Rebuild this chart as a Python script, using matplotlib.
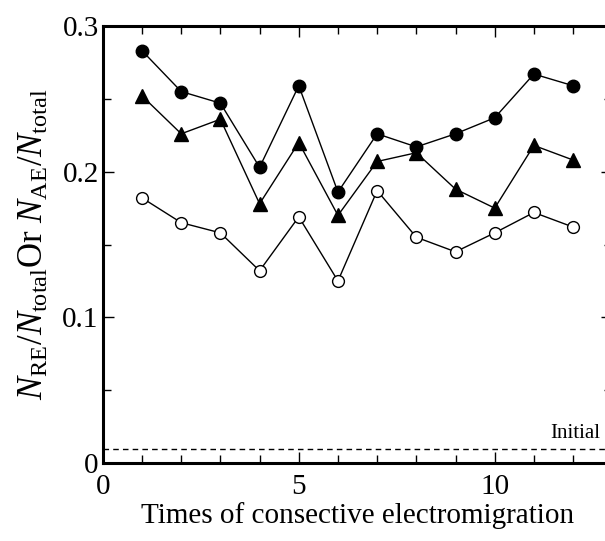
import numpy as np
import matplotlib
matplotlib.use('Agg')
import matplotlib.pyplot as plt
from matplotlib.ticker import MultipleLocator

plt.rcParams['font.family'] = ['Liberation Serif', 'DejaVu Serif']
plt.rcParams['mathtext.fontset'] = 'custom'
plt.rcParams['mathtext.rm'] = 'Liberation Serif'
plt.rcParams['mathtext.it'] = 'Liberation Serif:italic'

times = [1, 2, 3, 4, 5, 6, 7, 8, 9, 10, 11, 12]
filled_circle = [0.283, 0.255, 0.247, 0.203, 0.259, 0.186, 0.226, 0.217, 0.226, 0.237, 0.267, 0.259]
triangle = [0.252, 0.226, 0.236, 0.178, 0.220, 0.170, 0.207, 0.213, 0.188, 0.175, 0.218, 0.208]
open_circle = [0.182, 0.165, 0.158, 0.132, 0.169, 0.125, 0.187, 0.155, 0.145, 0.158, 0.172, 0.162]
initial = 0.01

fig = plt.figure(figsize=(6.05, 5.41), dpi=100)
ax = fig.add_axes([0.170, 0.144, 0.842, 0.808])

ax.plot(times, filled_circle, '-', color='black', lw=1, marker='o', ms=9, mfc='black', mec='black')
ax.plot(times, triangle, '-', color='black', lw=1, marker='^', ms=10.5, mfc='black', mec='black')
ax.plot(times, open_circle, '-', color='black', lw=1, marker='o', ms=8.5, mfc='white', mec='black', mew=1)
ax.axhline(initial, color='black', lw=1, ls=(0, (4, 3)))
ax.text(11.43, initial + 0.0035, 'Initial', fontsize=15, ha='left', va='bottom')

ax.set_xlim(0, 13)
ax.set_ylim(0, 0.3)
ax.xaxis.set_major_locator(MultipleLocator(5))
ax.xaxis.set_minor_locator(MultipleLocator(1))
ax.yaxis.set_minor_locator(MultipleLocator(0.05))
ax.set_yticks([0, 0.1, 0.2, 0.3])
ax.set_yticklabels(['0', '0.1', '0.2', '0.3'])

ax.tick_params(which='both', direction='in', top=True, right=True, labelsize=21, width=1)
ax.tick_params(which='major', length=8, pad=3)
ax.tick_params(axis='x', which='major', pad=8)
ax.tick_params(which='minor', length=5.5)
for s in ax.spines.values():
    s.set_linewidth(2.2)

ax.set_xlabel('Times of consective electromigration', fontsize=21, labelpad=1)
ax.set_ylabel(r'$N_{\rm RE}/N_{\rm total}$Or $N_{\rm AE}/N_{\rm total}$', fontsize=25, labelpad=8)

fig.savefig('out.png', dpi=100)
